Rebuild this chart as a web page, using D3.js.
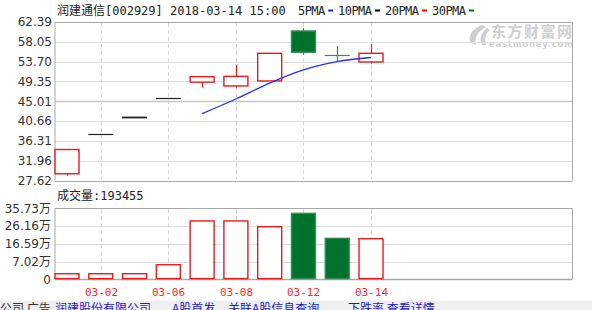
<!DOCTYPE html>
<meta charset="utf-8">

<style>
  body { margin: 0; background: #fff; }
  svg { display: block; }
  .mono { font-family: "DejaVu Sans Mono", "Noto Sans CJK SC", monospace; }
  .axis { font-family: "DejaVu Sans", "Noto Sans CJK SC", sans-serif; font-size: 12px; fill: #333; }
</style>

<svg class="chart"></svg>

<script src="https://d3js.org/d3.v7.min.js"></script>
<script>

  // daily candles, 润建通信 after listing
  var dates   = ["03-01", "03-02", "03-05", "03-06", "03-07", "03-08", "03-09", "03-12", "03-13", "03-14"];
  var opens   = [29.10, 37.86, 41.65, 45.82, 49.20, 48.36, 49.46, 60.42, 55.16, 53.62];
  var highs   = [34.42, 37.86, 41.65, 45.82, 50.40, 53.03, 55.52, 61.07, 57.13, 57.57];
  var lows    = [28.68, 37.86, 41.65, 45.82, 48.00, 48.00, 49.46, 55.23, 53.78, 53.25];
  var closes  = [34.42, 37.86, 41.65, 45.82, 50.40, 50.47, 55.52, 55.75, 55.16, 55.52];
  var volumes = [0.46, 0.46, 0.46, 5.30, 28.90, 28.90, 25.80, 33.00, 19.55, 19.35]; // 万

  // 5PMA starts at the fifth day
  var ma5 = [null, null, null, null, 42.30, 45.50, 49.00, 51.90, 53.70, 54.60];

  var priceTicks  = [62.39, 58.05, 53.70, 49.35, 45.01, 40.66, 36.31, 31.96, 27.62];
  var volTicks    = [35.73, 26.16, 16.59, 7.02, -2.55];
  var volLabels   = ["35.73万", "26.16万", "16.59万", "7.02万", "0"];
  var shownDates  = ["03-02", "03-06", "03-08", "03-12", "03-14"];

  var legendNames  = ["5PMA", "10PMA", "20PMA", "30PMA"];
  var legendColors = ["#1a1aff", "#000000", "#ff0000", "#008000"];

  var width  = 592;
  var height = 310;

  var red   = "#f01818";
  var green = "#00722e";
  var greenEdge = "#3a8c58";

  var chart = d3.select(".chart")
      .attr("width", width)
      .attr("height", height);

  var left = 55, right = 572.5;
  var priceTop = 22, priceBottom = 180.5;
  var volTop = 208.3, volBottom = 279.3;

  var x = d3.scaleLinear()
      .domain([0, dates.length - 1])
      .range([67, 67 + 33.78 * (dates.length - 1)]);

  var y = d3.scaleLinear()
      .domain([27.62, 62.39])
      .range([priceBottom, priceTop]);

  var yVol = d3.scaleLinear()
      .domain([-2.55, 35.73])
      .range([volBottom, volTop]);

  var bodyW = 24;

  // ---- header
  chart.append("text")
      .attr("class", "mono")
      .attr("x", 57).attr("y", 14.5)
      .attr("font-size", 12).attr("fill", "#222")
      .attr("xml:space", "preserve")
      .text("润建通信[002929] 2018-03-14 15:00");

  var legendX = [298, 338, 385, 432];
  legendNames.forEach(function(name, i) {
    chart.append("text")
        .attr("class", "mono")
        .attr("x", legendX[i]).attr("y", 14.5)
        .attr("font-size", 12).attr("fill", "#222")
        .attr("textLength", name.length * 6.8)
        .text(name);
    var end = legendX[i] + name.length * 6.8 + 3;
    chart.append("line")
        .attr("x1", end).attr("x2", end + 5)
        .attr("y1", 10.5).attr("y2", 10.5)
        .attr("stroke", legendColors[i]).attr("stroke-width", 2);
  });

  // ---- watermark
  var wm = chart.append("g").attr("fill", "#cfcfcf");
  wm.append("path")
      .attr("d", "M482,25 C474,28 468,35 470,42 L476,45 C474,38 478,31 486,27 Z M487,28 C481,33 479,39 482,45 L486,45 C484,39 486,33 490,30 Z");
  wm.append("text")
      .attr("x", 491).attr("y", 37)
      .attr("font-family", "Noto Sans CJK SC")
      .attr("font-weight", "bold")
      .attr("font-size", 15)
      .attr("textLength", 81)
      .text("东方财富网");
  wm.append("text")
      .attr("x", 489).attr("y", 47)
      .attr("font-family", "DejaVu Sans")
      .attr("font-weight", "bold")
      .attr("font-size", 8.5)
      .attr("textLength", 84)
      .text("eastmoney.com");

  // ---- price panel grid
  chart.append("g").selectAll("line")
      .data(priceTicks)
      .enter().append("line")
          .attr("x1", left).attr("x2", right)
          .attr("y1", function(d) { return Math.round(y(d)) + 0.5; })
          .attr("y2", function(d) { return Math.round(y(d)) + 0.5; })
          .attr("stroke", function(d, i) {
            if (i === 0 || i === priceTicks.length - 1) return "#a8a8a8";
            return i === 4 ? "#c4c4c4" : "#e0e0e0";
          })
          .attr("stroke-width", function(d, i) { return i === 4 ? 1.5 : 1; });

  chart.append("g").selectAll("text")
      .data(priceTicks)
      .enter().append("text")
          .attr("class", "axis")
          .attr("x", 52)
          .attr("y", function(d) { return y(d); })
          .attr("dy", "0.36em")
          .attr("text-anchor", "end")
          .text(function(d) { return d.toFixed(2); });

  // ---- volume panel grid
  chart.append("g").selectAll("line")
      .data(volTicks)
      .enter().append("line")
          .attr("x1", left).attr("x2", right)
          .attr("y1", function(d) { return Math.round(yVol(d)) + 0.5; })
          .attr("y2", function(d) { return Math.round(yVol(d)) + 0.5; })
          .attr("stroke", function(d, i) {
            return (i === 0 || i === volTicks.length - 1) ? "#a8a8a8" : "#dedede";
          })
          .attr("stroke-width", function(d, i) { return i === volTicks.length - 1 ? 1.5 : 1; });

  chart.append("g").selectAll("text")
      .data(volTicks)
      .enter().append("text")
          .attr("class", "axis")
          .attr("x", 51)
          .attr("y", function(d) { return yVol(d); })
          .attr("dy", "0.36em")
          .attr("text-anchor", "end")
          .text(function(d, i) { return volLabels[i]; });

  chart.append("text")
      .attr("class", "mono")
      .attr("x", 57).attr("y", 200)
      .attr("font-size", 12).attr("fill", "#222")
      .text("成交量:193455");

  // side borders
  [left, right].forEach(function(bx) {
    chart.append("line")
        .attr("x1", bx).attr("x2", bx)
        .attr("y1", priceTop).attr("y2", priceBottom)
        .attr("stroke", "#a8a8a8");
    chart.append("line")
        .attr("x1", bx).attr("x2", bx)
        .attr("y1", volTop).attr("y2", volBottom)
        .attr("stroke", "#a8a8a8");
  });

  // dashed date lines
  var dateIdx = shownDates.map(function(d) { return dates.indexOf(d); });
  dateIdx.forEach(function(i) {
    var xx = Math.round(x(i)) + 0.5;
    chart.append("line")
        .attr("x1", xx).attr("x2", xx)
        .attr("y1", priceTop + 1).attr("y2", priceBottom - 1)
        .attr("stroke", "#d4d4d4").attr("stroke-dasharray", "4,3");
    chart.append("line")
        .attr("x1", xx).attr("x2", xx)
        .attr("y1", volTop + 1).attr("y2", volBottom - 1)
        .attr("stroke", "#d4d4d4").attr("stroke-dasharray", "4,3");
    chart.append("text")
        .attr("class", "mono")
        .attr("x", xx).attr("y", 295.5)
        .attr("font-size", 11)
        .attr("text-anchor", "middle")
        .attr("fill", "#ff2a2a")
        .text(dates[i]);
  });

  // ---- candles
  var candles = dates.map(function(d, i) {
    return {
      i: i, o: opens[i], h: highs[i], l: lows[i], c: closes[i], v: volumes[i],
      prev: i > 0 ? closes[i - 1] : opens[i]
    };
  });

  function isUp(d) {
    if (d.c !== d.o) return d.c > d.o;
    return d.c >= d.prev;
  }

  // flat candles: black when the day closed higher, green when lower
  function flatColor(d) {
    return isUp(d) ? "#222" : "#3b8a57";
  }

  var candleG = chart.append("g");

  candleG.selectAll("line.wick")
      .data(candles)
      .enter().append("line")
          .attr("class", "wick")
          .attr("x1", function(d) { return Math.round(x(d.i)) + 0.5; })
          .attr("x2", function(d) { return Math.round(x(d.i)) + 0.5; })
          .attr("y1", function(d) { return y(d.h); })
          .attr("y2", function(d) { return y(d.l); })
          .attr("stroke", function(d) {
            if (d.c === d.o) return flatColor(d);
            return d.c > d.o ? red : greenEdge;
          })
          .attr("stroke-width", 1.2);

  var boxes = candles.filter(function(d) { return d.c !== d.o; });
  var flats = candles.filter(function(d) { return d.c === d.o; });

  candleG.selectAll("rect.body")
      .data(boxes)
      .enter().append("rect")
          .attr("class", "body")
          .attr("x", function(d) { return x(d.i) - bodyW / 2; })
          .attr("y", function(d) { return y(Math.max(d.o, d.c)); })
          .attr("width", bodyW)
          .attr("height", function(d) { return Math.abs(y(d.o) - y(d.c)); })
          .attr("fill", function(d) { return d.c < d.o ? green : "#fff"; })
          .attr("stroke", function(d) { return d.c < d.o ? greenEdge : red; })
          .attr("stroke-width", 1.4);

  candleG.selectAll("line.flat")
      .data(flats)
      .enter().append("line")
          .attr("class", "flat")
          .attr("x1", function(d) { return x(d.i) - bodyW / 2 - 0.5; })
          .attr("x2", function(d) { return x(d.i) + bodyW / 2 + 0.5; })
          .attr("y1", function(d) { return Math.round(y(d.c)) + 0.5; })
          .attr("y2", function(d) { return Math.round(y(d.c)) + 0.5; })
          .attr("stroke", flatColor)
          .attr("stroke-width", function(d) { return d.i === 2 ? 1.8 : 1.2; });

  // ---- 5PMA
  var line = d3.line()
      .defined(function(d) { return d !== null; })
      .x(function(d, i) { return x(i); })
      .y(function(d) { return y(d); })
      .curve(d3.curveMonotoneX);

  chart.append("path")
      .datum(ma5)
      .attr("d", line)
      .attr("fill", "none")
      .attr("stroke", "#2a2aff")
      .attr("stroke-width", 1.3);

  // ---- volume bars
  chart.append("g").selectAll("rect")
      .data(candles)
      .enter().append("rect")
          .attr("x", function(d) { return x(d.i) - bodyW / 2; })
          .attr("y", function(d) { return yVol(d.v); })
          .attr("width", bodyW)
          .attr("height", function(d) { return volBottom - 0.7 - yVol(d.v); })
          .attr("fill", function(d) { return isUp(d) ? "#fff" : green; })
          .attr("stroke", function(d) { return isUp(d) ? red : greenEdge; })
          .attr("stroke-width", 1.4);

  // ---- scrolling news strip at the bottom (cut off by the frame, as in the source)
  chart.append("rect")
      .attr("x", 0).attr("y", 300.5)
      .attr("width", width).attr("height", 10)
      .attr("fill", "#efefef");

  var strip = chart.append("text")
      .attr("y", 313)
      .attr("font-family", "Noto Sans CJK SC")
      .attr("font-size", 12)
      .attr("xml:space", "preserve");
  strip.append("tspan").attr("x", 0).attr("fill", "#333").text("公司 广告");
  strip.append("tspan").attr("x", 55).attr("fill", "#1a1acc").text("润建股份有限公司");
  strip.append("tspan").attr("x", 172).attr("fill", "#1a1acc").text("A股首发");
  strip.append("tspan").attr("x", 228).attr("fill", "#1a1acc").text("关联A股信息查询");
  strip.append("tspan").attr("x", 348).attr("fill", "#1a1acc").text("下跌率 查看详情");

</script>
